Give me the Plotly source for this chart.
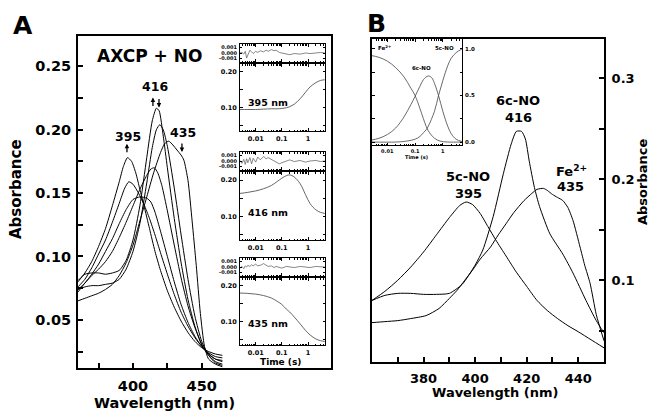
import plotly.graph_objects as go

W, H = 651, 412

# ---------------- Panel A : spectra (wavelength nm, absorbance) ----------------
wl_c1 = [360,365,370,375,380,385,390,393,396,399,402,405,408,412,416,420,425,430,435,440,445,450,455,460,465]
ab_c1 = [.080,.087,.096,.108,.122,.140,.159,.171,.178,.175,.166,.153,.140,.122,.104,.089,.073,.060,.049,.040,.033,.028,.025,.023,.022]

wl_c2 = [360,365,370,375,380,385,390,394,397,400,404,408,412,416,420,425,430,435,440,445,450,455,460,465]
ab_c2 = [.076,.082,.091,.102,.113,.127,.142,.154,.159,.157,.150,.141,.130,.117,.103,.086,.070,.056,.045,.036,.029,.024,.021,.020]

wl_c3 = [360,365,370,375,380,385,390,395,400,405,410,413,416,420,425,430,435,440,445,450,455,460,465]
ab_c3 = [.074,.079,.086,.094,.104,.114,.126,.137,.145,.147,.146,.143,.135,.120,.100,.080,.062,.048,.037,.029,.023,.019,.018]

wl_c4 = [360,365,370,375,380,385,390,395,400,405,410,413,415.5,418,421,425,430,435,440,445,450,455,460,465]
ab_c4 = [.072,.079,.085,.090,.096,.104,.115,.127,.140,.153,.164,.169,.170,.166,.156,.136,.109,.083,.061,.044,.031,.023,.019,.017]

wl_c5 = [360,365,370,375,380,385,390,395,400,405,410,414,417,419,422,425,430,435,440,445,450,455,460,465]
ab_c5 = [.081,.086,.087,.087,.086,.087,.089,.097,.113,.140,.178,.207,.217,.215,.195,.170,.130,.095,.066,.045,.030,.022,.017,.015]

wl_c6 = [360,365,370,375,380,385,390,395,400,405,410,414,417,419.5,422,425,430,435,440,445,450,455,460,465]
ab_c6 = [.074,.076,.077,.077,.078,.079,.082,.090,.104,.126,.158,.186,.200,.204,.200,.187,.154,.117,.082,.053,.033,.022,.016,.014]

wl_c7 = [360,365,370,375,380,385,390,395,400,405,410,415,420,423,426,429,432,435,437,440,443,446,449,452,455,460,465]
ab_c7 = [.065,.067,.069,.071,.074,.078,.085,.095,.109,.128,.147,.166,.182,.189,.191,.188,.184,.180,.176,.160,.128,.093,.055,.029,.019,.015,.013]

spectra_A = [(wl_c1, ab_c1), (wl_c2, ab_c2), (wl_c3, ab_c3), (wl_c4, ab_c4),
             (wl_c5, ab_c5), (wl_c6, ab_c6), (wl_c7, ab_c7)]

# ---------------- Panel A insets : kinetic traces (time s, absorbance) ----------------
t_kin = [0.0025,0.005,0.01,0.02,0.04,0.07,0.1,0.15,0.2,0.3,0.5,0.8,1.2,2,3,4.4]
k395 = [.095,.095,.095,.096,.097,.097,.098,.100,.103,.110,.125,.143,.158,.170,.176,.178]
k416 = [.163,.166,.170,.176,.185,.197,.205,.212,.214,.208,.190,.160,.135,.118,.111,.108]
k435 = [.180,.179,.177,.173,.166,.156,.148,.135,.127,.113,.094,.076,.063,.052,.047,.045]

t_res = [0.0025,0.003,0.0035,0.004,0.0045,0.005,0.006,0.007,0.008,0.01,0.012,0.015,0.02,0.025,
         0.03,0.04,0.05,0.06,0.08,0.1,0.15,0.2,0.3,0.5,0.8,1.2,2,3,4.4]
r395 = [0.0,0.0001,-0.0002,0.0003,-0.0009,-0.0004,0.0005,0.0002,-0.0001,0.0003,0.0001,0.0004,0.0002,
        0.0005,0.0003,0.0006,0.0004,0.0005,0.0001,0.0,-0.0002,-0.0003,-0.0001,-0.0002,0.0,-0.0001,0.0,0.0001,0.0]
r416 = [0.0001,-0.0004,0.0003,-0.0006,0.0004,-0.0003,0.0006,-0.0005,0.0005,-0.0002,0.0007,0.0002,0.0008,
        0.0004,0.0006,0.0003,0.0001,-0.0002,-0.0005,-0.0003,0.0,0.0002,-0.0001,0.0001,-0.0002,0.0,0.0001,-0.0001,0.0]
r435 = [-0.0002,0.0001,-0.0003,0.0002,0.0,0.0003,0.0001,0.0004,0.0002,0.0005,0.0002,0.0003,0.0006,
        0.0003,0.0001,0.0002,-0.0001,0.0001,0.0,-0.0002,0.0001,0.0,-0.0001,0.0001,0.0,-0.0001,0.0001,0.0,0.0]

# ---------------- Panel B : species spectra ----------------
wl_5c = [360,365,370,375,380,385,390,394,396.5,399,402,405,408,412,416,420,424,428,432,436,440,445,450]
ab_5c = [.080,.089,.100,.113,.128,.145,.162,.174,.1775,.175,.166,.153,.140,.124,.108,.094,.080,.070,.062,.055,.049,.041,.033]

wl_6c = [360,365,370,375,380,385,390,395,400,403,407,411,414,416,418,419.5,421,423,425,429,434,438,443,447,450]
ab_6c = [.080,.085,.087,.087,.086,.086,.087,.096,.115,.130,.163,.206,.235,.2475,.2475,.240,.218,.192,.173,.146,.126,.107,.080,.060,.048]

wl_fe = [360,365,370,375,381,386,390,393,396,399,402,406,409,412,415,419,422,424,426.5,428,430,432,434,436,438,440.7,442.5,444.6,447,450]
ab_fe = [.058,.059,.060,.062,.065,.072,.082,.090,.100,.110,.121,.133,.145,.156,.167,.179,.186,.190,.191,.189,.185,.182,.179,.172,.159,.133,.115,.097,.066,.040]

# ---------------- Panel B inset : species fractions ----------------
t_fe = [0.0026,0.005,0.01,0.02,0.04,0.07,0.1,0.15,0.2,0.25,0.3,0.5,0.8,1.5,4.9]
f_fe = [0.93,0.91,0.87,0.80,0.70,0.58,0.50,0.36,0.25,0.17,0.12,0.04,0.01,0.0,0.0]
t_6c = [0.0026,0.005,0.01,0.02,0.04,0.07,0.1,0.15,0.2,0.3,0.4,0.5,0.7,1.0,1.5,2,3,4.9]
f_6c = [0.02,0.04,0.08,0.15,0.27,0.40,0.49,0.60,0.67,0.71,0.69,0.63,0.50,0.33,0.17,0.09,0.03,0.005]
t_5c = [0.0026,0.02,0.05,0.1,0.15,0.2,0.25,0.3,0.5,0.7,1.0,1.5,2,3,4.9]
f_5c = [0.0,0.0,0.01,0.03,0.06,0.10,0.13,0.17,0.33,0.50,0.66,0.82,0.90,0.96,1.0]

# ---------------- helpers ----------------
def fx(px):
    return px / W

def fy(py):
    return 1 - py / H

def F(size):
    return dict(family='DejaVu Sans', size=size, color='black', weight='bold')

fig = go.Figure()

for wl, ab in spectra_A:
    fig.add_trace(go.Scatter(x=wl, y=ab, mode='lines', xaxis='x', yaxis='y',
                             line=dict(color='black', width=1, shape='spline', smoothing=0.6),
                             showlegend=False, hoverinfo='skip'))

kin = [(k395, r395, 'x2', 'y2', 'x3', 'y3'),
       (k416, r416, 'x4', 'y4', 'x5', 'y5'),
       (k435, r435, 'x6', 'y6', 'x7', 'y7')]
for k, r, xr, yr, xm, ym in kin:
    fig.add_trace(go.Scatter(x=t_res, y=r, mode='lines', xaxis=xr, yaxis=yr,
                             line=dict(color='#555', width=0.7), showlegend=False, hoverinfo='skip'))
    fig.add_trace(go.Scatter(x=t_kin, y=k, mode='lines', xaxis=xm, yaxis=ym,
                             line=dict(color='#555', width=0.9, shape='spline'), showlegend=False,
                             hoverinfo='skip'))

for wl, ab in [(wl_5c, ab_5c), (wl_6c, ab_6c), (wl_fe, ab_fe)]:
    fig.add_trace(go.Scatter(x=wl, y=ab, mode='lines', xaxis='x8', yaxis='y8',
                             line=dict(color='black', width=1, shape='spline', smoothing=0.6),
                             showlegend=False, hoverinfo='skip'))

for t, f in [(t_fe, f_fe), (t_6c, f_6c), (t_5c, f_5c)]:
    fig.add_trace(go.Scatter(x=t, y=f, mode='lines', xaxis='x9', yaxis='y9',
                             line=dict(color='#444', width=0.8, shape='spline'),
                             showlegend=False, hoverinfo='skip'))

common = dict(showgrid=False, zeroline=False, showline=True, linecolor='black', ticks='inside',
              tickcolor='black')

lay = dict(width=W, height=H, margin=dict(l=0, r=0, t=0, b=0), paper_bgcolor='white',
           plot_bgcolor='rgba(0,0,0,0)', showlegend=False)

# A main
lay['xaxis'] = dict(common, domain=[fx(78), fx(331)], range=[360, 544], anchor='y', mirror=True,
                    linewidth=2, tickmode='array', tickvals=[375, 400, 425, 450],
                    ticktext=['', '400', '', '450'], ticklen=5, tickwidth=1.5, tickfont=F(14.5),
                    ticklabelstandoff=4)
yv = [0.025, 0.05, 0.075, 0.10, 0.125, 0.15, 0.175, 0.20, 0.225, 0.25]
yt = ['', '0.05', '', '0.10', '', '0.15', '', '0.20', '', '0.25']
lay['yaxis'] = dict(common, domain=[fy(368), fy(36)], range=[0.012, 0.274], anchor='x', mirror=True,
                    linewidth=2, tickmode='array', tickvals=yv, ticktext=yt, ticklen=5, tickwidth=1.5,
                    tickfont=F(14.5), ticklabelstandoff=2)

# A insets
major_t = [0.01, 0.1, 1]
minor_t = [0.003, 0.004, 0.005, 0.006, 0.007, 0.008, 0.009, 0.02, 0.03, 0.04, 0.05, 0.06, 0.07,
           0.08, 0.09, 0.2, 0.3, 0.4, 0.5, 0.6, 0.7, 0.8, 0.9, 2, 3, 4]
insets = [(2, 3, 44, 62, 64, 131), (4, 5, 152, 170, 172, 240), (6, 7, 258, 276, 278, 345)]
for ir, im, rt, rb, mt, mb in insets:
    xdom = [fx(240), fx(325)]
    lay[f'xaxis{ir}'] = dict(common, domain=xdom, type='log', range=[-2.6, 0.65], anchor=f'y{ir}',
                             mirror='ticks', linewidth=1, tickmode='array', tickvals=major_t,
                             showticklabels=False, ticklen=3, tickwidth=0.8,
                             minor=dict(tickmode='array', tickvals=minor_t, ticks='inside', ticklen=1.5,
                                        tickcolor='black', tickwidth=0.6))
    lay[f'yaxis{ir}'] = dict(common, domain=[fy(rb), fy(rt)], range=[-0.0016, 0.0016], anchor=f'x{ir}',
                             mirror='ticks', linewidth=1, tickmode='array', tickvals=[-0.001, 0, 0.001],
                             ticktext=['-0.001', '0.000', '0.001'], ticklen=2, tickwidth=0.6,
                             tickfont=F(5), ticklabelstandoff=1)
    lay[f'xaxis{im}'] = dict(common, domain=xdom, type='log', range=[-2.6, 0.65], anchor=f'y{im}',
                             mirror='ticks', linewidth=1, tickmode='array', tickvals=major_t,
                             ticktext=['0.01', '0.1', '1'], ticklen=3, tickwidth=0.8, tickfont=F(6.5),
                             ticklabelstandoff=1,
                             minor=dict(tickmode='array', tickvals=minor_t, ticks='inside', ticklen=1.5,
                                        tickcolor='black', tickwidth=0.6))
    lay[f'yaxis{im}'] = dict(common, domain=[fy(mb), fy(mt)], range=[0.035, 0.222], anchor=f'x{im}',
                             mirror='ticks', linewidth=1, tickmode='array',
                             tickvals=[0.05, 0.10, 0.15, 0.20], ticktext=['', '0.10', '', '0.20'],
                             ticklen=2.5, tickwidth=0.8, tickfont=F(6.5), ticklabelstandoff=1)

# B main
lay['xaxis8'] = dict(common, domain=[fx(372), fx(604)], range=[360, 450], anchor='y8', mirror=True,
                     linewidth=2, tickmode='array', tickvals=[370, 380, 390, 400, 410, 420, 430, 440],
                     ticktext=['', '380', '', '400', '', '420', '', '440'], ticklen=5, tickwidth=1.5,
                     tickfont=F(13), ticklabelstandoff=3)
lay['yaxis8'] = dict(common, domain=[fy(362), fy(39)], range=[0.019, 0.339], anchor='x8', side='right',
                     mirror=True, linewidth=2, tickmode='array',
                     tickvals=[0.05, 0.10, 0.15, 0.20, 0.25, 0.30],
                     ticktext=['', '0.1', '', '0.2', '', '0.3'], ticklen=5, tickwidth=1.5,
                     tickfont=F(13), ticklabelstandoff=3)

# B inset
lay['xaxis9'] = dict(common, domain=[fx(372), fx(462)], type='log', range=[-2.55, 0.69], anchor='y9',
                     mirror='ticks', linewidth=1, tickmode='array', tickvals=major_t,
                     ticktext=['0.01', '0.1', '1'], ticklen=2.5, tickwidth=0.8, tickfont=F(5),
                     ticklabelstandoff=1,
                     minor=dict(tickmode='array', tickvals=minor_t, ticks='inside', ticklen=1.5,
                                tickcolor='black', tickwidth=0.6))
lay['yaxis9'] = dict(common, domain=[fy(145), fy(39)], range=[-0.032, 1.107], anchor='x9', side='right',
                     mirror='ticks', linewidth=1, tickmode='array', tickvals=[0, 0.25, 0.5, 0.75, 1.0],
                     ticktext=['0.0', '', '0.5', '', '1.0'], ticklen=2.5, tickwidth=0.8, tickfont=F(5.5),
                     ticklabelstandoff=1)

fig.update_layout(**lay)


def txt(text, px, py, size, angle=0):
    fig.add_annotation(text=text, x=fx(px), y=fy(py), xref='paper', yref='paper', showarrow=False,
                       xanchor='center', yanchor='middle', textangle=angle, font=F(size))


def arrow(x, y, ay):
    fig.add_annotation(text='', x=x, y=y, xref='x', yref='y', ax=0, ay=ay, showarrow=True,
                       arrowhead=2, arrowsize=0.7, arrowwidth=1.3, arrowcolor='black')


# panel letters and titles
txt('A', 23, 26, 25)
txt('B', 376, 24, 25)
txt('AXCP + NO', 149, 56, 17)
txt('Absorbance', 16, 189, 15, -90)
txt('Wavelength (nm)', 164, 403, 14.5)
txt('Wavelength (nm)', 495, 392, 13)
txt('Absorbance', 642, 182, 13, -90)

# panel A peak labels with arrows
txt('395', 128, 136, 12.5)
txt('416', 155, 86, 12.5)
txt('435', 183, 132, 12.5)
arrow(395.6, 0.189, 10)
arrow(414.5, 0.2255, 10)
arrow(418.9, 0.2175, -10)
arrow(435.6, 0.1825, -10)

# panel A inset labels
txt('395 nm', 268, 102, 9.5)
txt('416 nm', 268, 212, 9.5)
txt('435 nm', 268, 323, 9.5)
txt('Time (s)', 280, 362, 9)

# panel B labels
txt('6c-NO', 518, 100, 13)
txt('416', 518, 117, 13)
txt('5c-NO', 468, 177, 13)
txt('395', 468, 193, 13)
txt('Fe<sup>2+</sup>', 571, 171, 13)
txt('435', 570, 186, 13)

# panel B inset labels
txt('Fe<sup>2+</sup>', 384, 48, 5.5)
txt('6c-NO', 421, 68, 5.5)
txt('5c-NO', 444, 48, 5.5)
txt('Time (s)', 416, 157, 5)

fig.write_html('out.html', config={'displayModeBar': False},
               post_script="document.body.style.margin='0';document.body.style.overflow='hidden';")
